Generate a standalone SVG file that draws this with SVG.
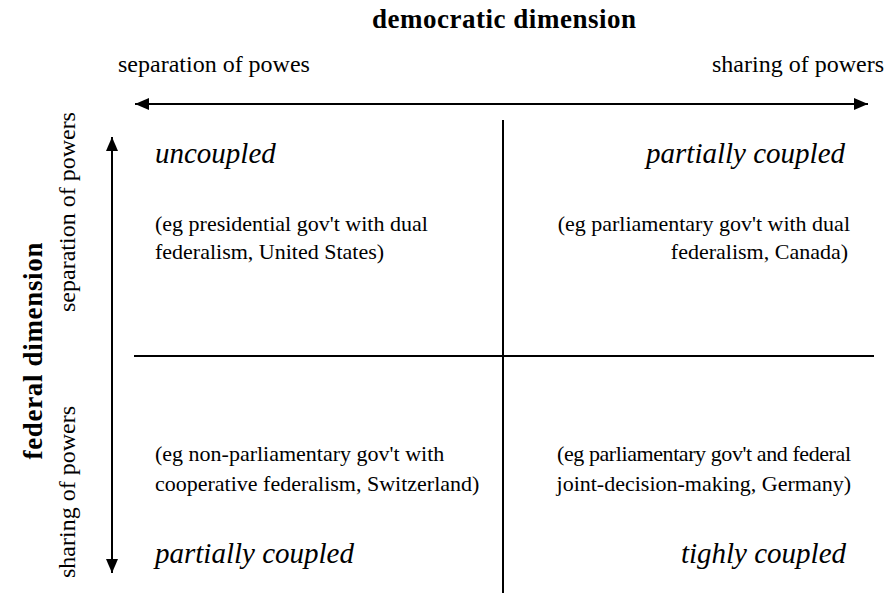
<svg xmlns="http://www.w3.org/2000/svg" width="894" height="593" viewBox="0 0 894 593">
  <style>
    text { font-family: "Liberation Serif", "Times New Roman", serif; fill: #000; }
    .title { font-size: 27px; font-weight: bold; }
    .axis { font-size: 24px; }
    .type { font-size: 29px; font-style: italic; }
    .ex { font-size: 22px; }
    .line { stroke: #000; stroke-width: 2; fill: none; }
  </style>
  <defs>
    <marker id="arrow" viewBox="0 0 14 12" refX="14" refY="6" markerUnits="userSpaceOnUse" markerWidth="14" markerHeight="12" orient="auto-start-reverse">
      <path d="M0,0 L14,6 L0,12 z" fill="#000"/>
    </marker>
  </defs>

  <rect x="0" y="0" width="894" height="593" fill="#fff"/>

  <g id="connectors">
    <line class="line" x1="135" y1="104" x2="868" y2="104" marker-start="url(#arrow)" marker-end="url(#arrow)"/>
    <line class="line" x1="112" y1="137" x2="112" y2="573" marker-start="url(#arrow)" marker-end="url(#arrow)"/>
    <line class="line" x1="503" y1="120" x2="503" y2="593"/>
    <line class="line" x1="134" y1="356" x2="874" y2="356"/>
  </g>

  <g id="democratic-dimension">
    <text class="title" x="504" y="28" text-anchor="middle" textLength="264" lengthAdjust="spacing">democratic dimension</text>
    <text class="axis" x="118" y="72">separation of powes</text>
    <text class="axis" x="884" y="72" text-anchor="end">sharing of powers</text>
  </g>

  <g id="federal-dimension">
    <text class="title" transform="translate(42,351) rotate(-90)" text-anchor="middle" textLength="217" lengthAdjust="spacing">federal dimension</text>
    <text class="axis" transform="translate(75,212) rotate(-90)" text-anchor="middle">separation of powers</text>
    <text class="axis" transform="translate(75,492) rotate(-90)" text-anchor="middle">sharing of powers</text>
  </g>

  <g id="uncoupled">
    <text class="type" x="155" y="163">uncoupled</text>
    <text class="ex" x="155" y="231">(eg presidential gov't with dual</text>
    <text class="ex" x="155" y="259">federalism, United States)</text>
  </g>

  <g id="partially-coupled-top">
    <text class="type" x="845" y="163" text-anchor="end">partially coupled</text>
    <text class="ex" x="850" y="231" text-anchor="end">(eg parliamentary gov't with dual</text>
    <text class="ex" x="848" y="259" text-anchor="end">federalism, Canada)</text>
  </g>

  <g id="partially-coupled-bottom">
    <text class="ex" x="155" y="461">(eg non-parliamentary gov't with</text>
    <text class="ex" x="155" y="491">cooperative federalism, Switzerland)</text>
    <text class="type" x="155" y="563">partially coupled</text>
  </g>

  <g id="tightly-coupled">
    <text class="ex" x="851" y="461" text-anchor="end" textLength="294" lengthAdjust="spacing">(eg parliamentary gov't and federal</text>
    <text class="ex" x="851" y="491" text-anchor="end">joint-decision-making, Germany)</text>
    <text class="type" x="846" y="563" text-anchor="end">tighly coupled</text>
  </g>
</svg>
